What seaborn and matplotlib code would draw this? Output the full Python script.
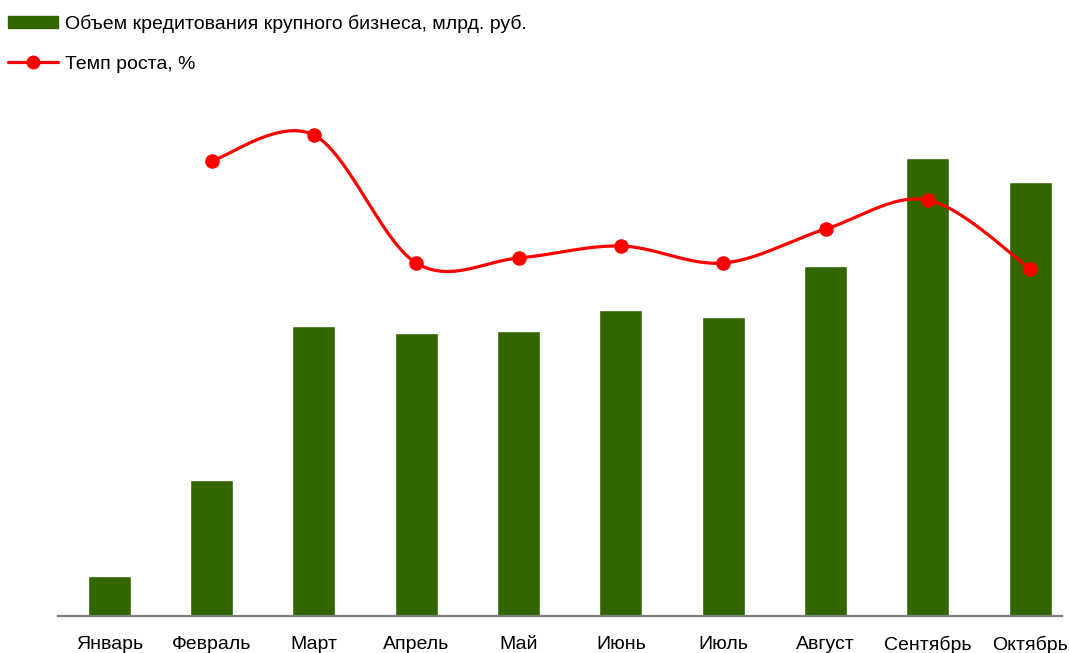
import matplotlib
matplotlib.use("Agg")
import matplotlib.pyplot as plt
from matplotlib.lines import Line2D
from matplotlib.patches import Patch
import seaborn as sns
import pandas as pd
import numpy as np

months = ["Январь", "Февраль", "Март", "Апрель", "Май",
          "Июнь", "Июль", "Август", "Сентябрь", "Октябрь"]
volume = [40, 136, 290, 283, 285, 306, 299, 350, 458, 434]
growth = [np.nan, 455, 481, 353, 358, 370, 353, 387, 416, 347]

bar_label = "Объем кредитования крупного бизнеса, млрд. руб."
line_label = "Темп роста, %"

sns.set_style("white")
plt.rcParams['font.family'] = ['Liberation Sans', 'DejaVu Sans']
plt.rcParams['text.color'] = "#000000"

green = "#336600"
red = "#ff0000"


def smooth(xs, ys, steps=30):
    # сглаживание как в Excel: кривые Безье по соседним точкам
    pts = np.column_stack([xs, ys])
    n = len(pts)
    out = []
    for i in range(n - 1):
        p0 = pts[max(i - 1, 0)]
        p1 = pts[i]
        p2 = pts[i + 1]
        p3 = pts[min(i + 2, n - 1)]
        c1 = p1 + (p2 - p0) / 6
        c2 = p2 - (p3 - p1) / 6
        t = np.linspace(0, 1, steps)[:, None]
        seg = ((1 - t) ** 3 * p1 + 3 * (1 - t) ** 2 * t * c1
               + 3 * (1 - t) * t ** 2 * c2 + t ** 3 * p2)
        out.append(seg if i == 0 else seg[1:])
    out = np.vstack(out)
    return out[:, 0], out[:, 1]


df = pd.DataFrame({"month": months, "volume": volume, "growth": growth})

fig = plt.figure(figsize=(10.69, 6.53), dpi=100)
ax = fig.add_axes([58 / 1069, 37 / 653, 1004 / 1069, 516 / 653])

sns.barplot(data=df, x="month", y="volume", color=green, width=0.42,
            saturation=1, ax=ax)

ax2 = ax.twinx()
gd = df.dropna()
xi = gd.index.to_numpy(dtype=float)
sx, sy = smooth(xi, gd["growth"].to_numpy())
sns.lineplot(x=sx, y=sy, color=red, linewidth=2.3, sort=False,
             estimator=None, ax=ax2)
sns.scatterplot(x=xi, y=gd["growth"], color=red, s=110, linewidth=0,
                ax=ax2, zorder=5)

for a in (ax, ax2):
    a.set_ylim(0, 516)
    a.set_xlim(-0.5, 9.31)
    a.set_yticks([])
    a.set_ylabel("")
    for s in a.spines.values():
        s.set_visible(False)
ax.set_xlabel("")
ax.spines["bottom"].set_visible(True)
ax.spines["bottom"].set_color("#808080")
ax.spines["bottom"].set_linewidth(1.6)
ax.tick_params(axis="x", length=0, pad=14.5, labelsize=14, labelcolor="#000000")

handles = [Patch(facecolor=green, edgecolor=green),
           Line2D([0], [0], color=red, linewidth=2.3, marker="o",
                  markersize=9)]
fig.legend(handles, [bar_label, line_label], loc="upper left",
           bbox_to_anchor=(0.0, 1 - 7 / 653), frameon=False, fontsize=14,
           handlelength=2.57, handleheight=0.55, handletextpad=0.36,
           labelspacing=1.17, borderaxespad=0.1, borderpad=0.3)

fig.savefig("out.png", dpi=100)
